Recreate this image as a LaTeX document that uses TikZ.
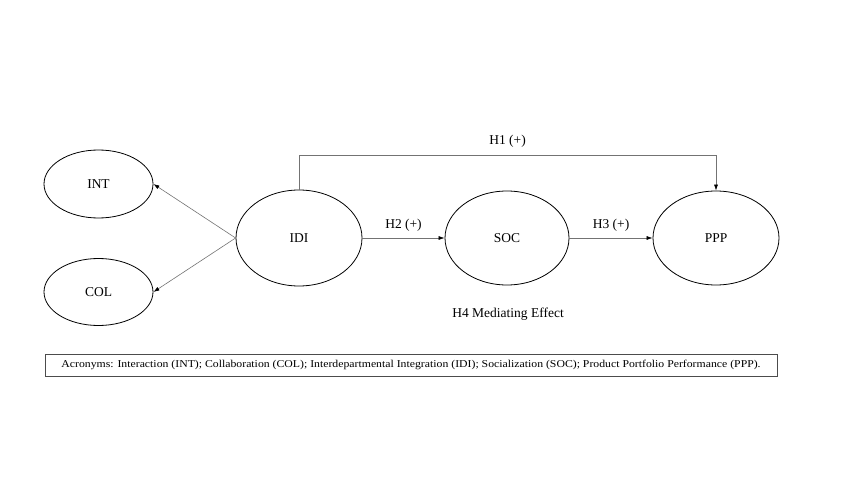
\documentclass[tikz,border=0pt]{standalone}
\usepackage{fontspec}
\setmainfont{Liberation Serif}
\usetikzlibrary{arrows.meta,shapes.geometric}
\begin{document}
\begin{tikzpicture}[x=1pt,y=-1pt,
  construct/.style={draw=black,line width=0.8pt,ellipse,inner sep=0pt,font=\fontsize{13.5}{15}\selectfont},
  link/.style={draw=black!55,line width=0.6pt,-{Latex[length=6pt,width=4pt,color=black]}},
  lbl/.style={font=\fontsize{13.5}{15}\selectfont}]
\useasboundingbox (0,0) rectangle (850,478);
\node[construct,minimum width=109pt,minimum height=68pt] (int) at (98.5,184) {INT};
\node[construct,minimum width=109pt,minimum height=67pt] (col) at (98.5,292) {COL};
\node[construct,minimum width=126pt,minimum height=96pt] (idi) at (299,238) {IDI};
\node[construct,minimum width=124pt,minimum height=94pt] (soc) at (507,238) {SOC};
\node[construct,minimum width=126pt,minimum height=94pt] (ppp) at (716,238) {PPP};
\draw[link] (idi.west) -- (int.east);
\draw[link] (idi.west) -- (col.east);
\draw[link] (idi.east) -- node[lbl,above=3pt] {H2 (+)} (soc.west);
\draw[link] (soc.east) -- node[lbl,above=3pt] {H3 (+)} (ppp.west);
\coordinate (c1) at (299,155);
\coordinate (c2) at (716,155);
\draw[link] (idi.north) -- (c1) -- node[lbl,above=4pt] {H1 (+)} (c2) -- (ppp.north);
\node[lbl] (h4) at (508,314) {H4 Mediating Effect};
\node[draw=black!70,line width=0.7pt,minimum width=732pt,minimum height=22pt,inner sep=0pt] (box) at (411,365) {};
\node[font=\fontsize{10.5}{12}\selectfont,xscale=1.12] (acr) at (box.center) {Acronyms: Interaction (INT); Collaboration (COL); Interdepartmental Integration (IDI); Socialization (SOC); Product Portfolio Performance (PPP).};
\end{tikzpicture}
\end{document}
